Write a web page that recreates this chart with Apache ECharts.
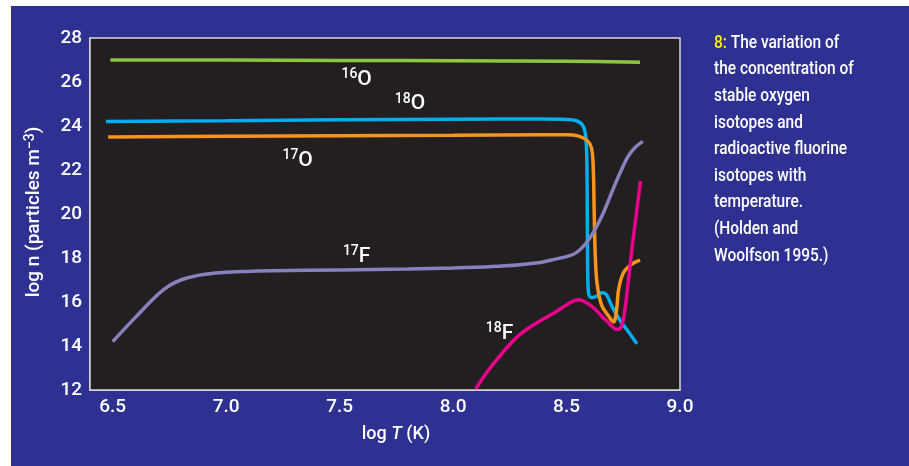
<!DOCTYPE html>
<html>
<head>
<meta charset="utf-8">
<script src="https://cdn.jsdelivr.net/npm/echarts@6/dist/echarts.min.js"></script>
<style>
html,body{margin:0;padding:0;background:#ffffff;}
#main{width:909px;height:466px;}
</style>
</head>
<body>
<div id="main"></div>
<script>
// ---- data (log T, log n) ----
var o16 = [[6.49,27.0],[7.0,27.0],[7.5,26.98],[8.0,26.97],[8.5,26.94],[8.824,26.9]];
var o18 = [[6.47,24.2],[7.0,24.24],[7.5,24.28],[8.0,24.31],[8.4,24.32],[8.5,24.3],[8.54,24.25],[8.57,24.05],[8.585,23.5],[8.59,22],[8.592,19],[8.594,17],[8.598,16.35],[8.61,16.2],[8.63,16.25],[8.655,16.42],[8.675,16.35],[8.7,15.8],[8.74,15.1],[8.78,14.55],[8.81,14.1]];
var o17 = [[6.48,23.5],[7.0,23.53],[7.5,23.56],[8.0,23.58],[8.4,23.6],[8.5,23.6],[8.55,23.55],[8.59,23.35],[8.61,23.0],[8.618,22],[8.622,20],[8.627,18],[8.635,16.8],[8.655,15.85],[8.685,15.36],[8.707,15.09],[8.72,15.6],[8.73,16.6],[8.752,17.35],[8.788,17.72],[8.824,17.9]];
var f17 = [[6.5,14.2],[6.6,15.3],[6.7,16.35],[6.75,16.75],[6.8,17.0],[6.85,17.15],[6.9,17.25],[7.0,17.35],[7.2,17.42],[7.5,17.46],[7.8,17.5],[8.0,17.55],[8.2,17.62],[8.385,17.8],[8.45,17.95],[8.53,18.17],[8.58,18.6],[8.62,19.2],[8.66,20.0],[8.70,21.0],[8.735,21.85],[8.77,22.6],[8.8,23.0],[8.836,23.3]];
var f18 = [[8.1,12.05],[8.153,12.86],[8.212,13.62],[8.286,14.45],[8.359,14.99],[8.448,15.52],[8.522,16.0],[8.552,16.1],[8.59,15.95],[8.626,15.67],[8.66,15.3],[8.685,15.06],[8.71,14.8],[8.726,14.76],[8.742,14.9],[8.755,15.5],[8.77,16.73],[8.788,18.4],[8.81,20.2],[8.826,21.5]];

// isotope labels: [x, y, mass number, element]
var isoLabels = [[7.575,26.12,'16','O'],[7.81,25.0,'18','O'],[7.315,22.42,'17','O'],[7.575,18.05,'17','F'],[8.205,14.55,'18','F']];

var xTicks = [6.5,7.0,7.5,8.0,8.5];
var xLabels = [6.5,7.0,7.5,8.0,8.5,9.0];
var yTicks = [14,16,18,20,22,24,26];
var yLabels = [12,14,16,18,20,22,24,26,28];

var captionLines = ['The variation of','the concentration of','stable oxygen','isotopes and','radioactive fluorine','isotopes with','temperature.','(Holden and','Woolfson 1995.)'];

var FONT = "Roboto,'Liberation Sans',sans-serif";

var chart = echarts.init(document.getElementById('main'), null, {renderer:'canvas'});

function lineSeries(name, data, color){
  return {
    name:name, type:'line', data:data, showSymbol:false, symbol:'none',
    smooth:0.35,
    lineStyle:{color:color, width:3.5, cap:'butt'},
    z:3, clip:true
  };
}

var caption = '{y|8:}{w| ' + captionLines[0] + '}';
for (var i=1;i<captionLines.length;i++) caption += '\n{w|' + captionLines[i] + '}';

var option = {
  backgroundColor:'#ffffff',
  animation:false,
  grid:{left:90, right:229, top:38, bottom:76, show:true, backgroundColor:'#231f20', borderColor:'#d9d9d9', borderWidth:1.5, z:1},
  xAxis:{
    type:'value', min:6.4, max:9.0,
    axisLine:{show:true, onZero:false, lineStyle:{color:'#e6e6e6', width:1.5}},
    axisTick:{show:true, inside:true, length:11, customValues:xTicks, lineStyle:{color:'#e6e6e6', width:1.5}},
    axisLabel:{show:true, customValues:xLabels, margin:8, color:'#ffffff', fontSize:19, fontWeight:500, fontFamily:FONT,
      formatter:function(v){return v.toFixed(1);}},
    splitLine:{show:false}
  },
  yAxis:{
    type:'value', min:12, max:28,
    axisLine:{show:true, onZero:false, lineStyle:{color:'#e6e6e6', width:1.5}},
    axisTick:{show:true, inside:true, length:11, customValues:yTicks, lineStyle:{color:'#e6e6e6', width:1.5}},
    axisLabel:{show:true, customValues:yLabels, margin:8, color:'#ffffff', fontSize:19, fontWeight:500, fontFamily:FONT},
    splitLine:{show:false}
  },
  graphic:[
    {type:'rect', z:-100, silent:true, shape:{x:11, y:6, width:898, height:460}, style:{fill:'#2e3192'}},
    {type:'text', z:10, x:34, y:212, rotation:Math.PI/2,
      style:{text:'{a|log n (particles m}{s|\u22123}{a|)}', align:'center', verticalAlign:'middle',
        rich:{a:{fill:'#ffffff', fontSize:19, fontWeight:500, fontFamily:FONT, lineHeight:22},
              s:{fill:'#ffffff', fontSize:14, fontWeight:500, fontFamily:FONT, lineHeight:13, verticalAlign:'top'}}}},
    {type:'text', z:10, x:396, y:434,
      style:{text:'{a|log }{i|T}{a| (K)}', align:'center', verticalAlign:'middle',
        rich:{a:{fill:'#ffffff', fontSize:18, fontWeight:500, fontFamily:FONT},
              i:{fill:'#ffffff', fontSize:18, fontWeight:500, fontFamily:FONT, fontStyle:'italic'}}}},
    {type:'text', z:10, x:714, y:30, scaleX:0.86,
      style:{text:caption, align:'left', verticalAlign:'top',
        rich:{y:{fill:'#fff200', fontSize:18, fontWeight:500, fontFamily:FONT, lineHeight:26.6},
              w:{fill:'#ffffff', fontSize:18, fontWeight:500, fontFamily:FONT, lineHeight:26.6}}}}
  ],
  series:[
    lineSeries('16O', o16, '#8dc63f'),
    lineSeries('18O', o18, '#00aeef'),
    lineSeries('17O', o17, '#f7941d'),
    lineSeries('17F', f17, '#8781bd'),
    lineSeries('18F', f18, '#ec008c'),
    {
      type:'scatter', symbolSize:0, z:5, silent:true,
      data:isoLabels.map(function(d){return {value:[d[0],d[1]], sup:d[2], el:d[3]};}),
      label:{show:true, position:'inside', color:'#ffffff', textBorderWidth:0, opacity:1,
        formatter:function(p){return '{s|'+p.data.sup+'}{o|'+p.data.el+'}';},
        rich:{s:{color:'#ffffff', textBorderWidth:0, fontSize:14, fontWeight:500, fontFamily:FONT, lineHeight:14, verticalAlign:'top'},
              o:{color:'#ffffff', textBorderWidth:0, fontSize:21, fontWeight:500, fontFamily:FONT, lineHeight:24}}}
    }
  ]
};
chart.setOption(option);
</script>
</body>
</html>
